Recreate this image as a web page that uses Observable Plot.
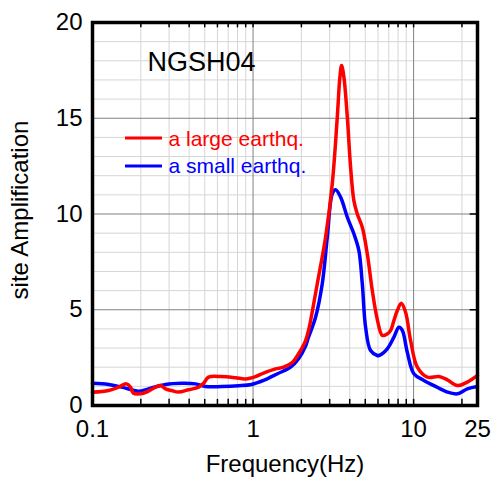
<!DOCTYPE html>
<html>
<head>
<meta charset="utf-8">
<script src="https://cdn.jsdelivr.net/npm/d3@7"></script>
<script src="https://cdn.jsdelivr.net/npm/@observablehq/plot@0.6"></script>
<style>
  html, body { margin: 0; padding: 0; background: #fff; }
  #chart { width: 493px; height: 485px; }
</style>
</head>
<body>
<div id="chart"></div>
<script>
// ---- data ----
const freqLarge = [0.1, 0.126, 0.145, 0.163, 0.1725, 0.18, 0.199, 0.217, 0.247, 0.265, 0.285, 0.311, 0.343, 0.396, 0.458, 0.492, 0.528, 0.636, 0.778, 0.898, 1.036, 1.163, 1.38, 1.549, 1.762, 1.921, 2.124, 2.227, 2.35, 2.512, 2.83, 3.115, 3.347, 3.474, 3.56, 3.68, 3.864, 4.051, 4.246, 4.458, 4.79, 5.146, 5.529, 5.939, 6.383, 6.856, 7.193, 7.541, 7.916, 8.383, 8.913, 9.579, 10.55, 12.17, 14.38, 16.22, 18.72, 21.61, 25];
const ampLarge  = [0.69, 0.78, 0.96, 1.13, 0.96, 0.64, 0.61, 0.70, 0.96, 1.04, 0.87, 0.78, 0.70, 0.82, 0.96, 1.16, 1.48, 1.51, 1.45, 1.39, 1.51, 1.69, 1.91, 2.0, 2.26, 2.70, 3.39, 4.0, 5.0, 6.36, 8.79, 11.58, 15.06, 17.14, 17.75, 17.14, 15.06, 12.44, 10.7, 10.0, 9.31, 7.92, 6.0, 4.5, 3.66, 3.74, 3.92, 4.44, 4.96, 5.34, 4.87, 3.39, 2.0, 1.48, 1.51, 1.34, 1.04, 1.22, 1.57];

const freqSmall = [0.1, 0.126, 0.152, 0.194, 0.223, 0.285, 0.359, 0.438, 0.506, 0.636, 0.812, 0.979, 1.163, 1.421, 1.713, 1.921, 2.124, 2.2, 2.451, 2.698, 2.9, 3.115, 3.266, 3.51, 3.864, 4.246, 4.562, 4.79, 5.023, 5.395, 5.939, 6.078, 6.856, 7.541, 8.1, 8.505, 9.135, 10.04, 11.59, 13.38, 16.22, 18.72, 21.61, 25];
const ampSmall  = [1.16, 1.10, 0.96, 0.75, 0.87, 1.10, 1.16, 1.13, 0.99, 0.99, 1.03, 1.10, 1.31, 1.66, 2.0, 2.44, 3.1, 3.5, 4.61, 6.36, 8.79, 11.05, 11.26, 10.88, 9.83, 8.97, 8.09, 6.36, 4.09, 2.87, 2.61, 2.61, 2.96, 3.57, 4.09, 3.92, 2.78, 1.66, 1.31, 1.04, 0.70, 0.61, 0.87, 0.99];

const seriesNames = ["a large earthq.", "a small earthq."];
const seriesColors = ["#ff0000", "#0000ff"];
const stationName = "NGSH04";
const xTickLabels = [0.1, 1, 10, 25];
const yTickLabels = [0, 5, 10, 15, 20];
const xLabel = "Frequency(Hz)";
const yLabel = "site Amplification";

// ---- derived tables ----
const large = freqLarge.map((f, i) => ({f, a: ampLarge[i]}));
const small = freqSmall.map((f, i) => ({f, a: ampSmall[i]}));
const xMajor = [0.1, 1, 10];
const xMinor = [];
for (const d of [0.1, 1, 10]) for (let k = 2; k <= 9; k++) { const v = d * k; if (v <= 25) xMinor.push(+v.toFixed(3)); }
const xAllTicks = [...xMajor, ...xMinor];
const yMinor = d3.range(1, 20).filter(v => v % 5 !== 0);
const yMajor = [5, 10, 15];

const FONT = "'Liberation Sans', Arial, Helvetica, sans-serif";

const plot = Plot.plot({
  width: 493,
  height: 485,
  marginLeft: 92,
  marginRight: 16,
  marginTop: 22,
  marginBottom: 80,
  style: {fontFamily: FONT, fontSize: "20px", background: "#fff", color: "#000"},
  x: {type: "log", domain: [0.1, 25]},
  y: {domain: [0, 20]},
  marks: [
    Plot.gridX(xMinor, {stroke: "#d6d6d6", strokeOpacity: 1, strokeWidth: 1}),
    Plot.gridY(yMinor, {stroke: "#d6d6d6", strokeOpacity: 1, strokeWidth: 1}),
    Plot.gridX(xMajor, {stroke: "#808080", strokeOpacity: 1, strokeWidth: 1}),
    Plot.gridY(yMajor, {stroke: "#808080", strokeOpacity: 1, strokeWidth: 1}),
    // inward ticks, bottom & top
    Plot.ruleX(xAllTicks, {x: d => d, y1: 0, y2: 0.32, stroke: "#000", strokeWidth: 1.5}),
    Plot.ruleX(xAllTicks, {x: d => d, y1: 20, y2: 19.72, stroke: "#000", strokeWidth: 1.5}),
    // right ticks at major y
    Plot.ruleY(yMajor, {y: d => d, x1: 22.5, x2: 25, stroke: "#000", strokeWidth: 1.5}),
    // curves
    Plot.line(small, {x: "f", y: "a", stroke: seriesColors[1], strokeWidth: 3.5, curve: "catmull-rom"}),
    Plot.line(large, {x: "f", y: "a", stroke: seriesColors[0], strokeWidth: 3.5, curve: "catmull-rom"}),
    Plot.frame({stroke: "#000", strokeWidth: 3.5}),
    // tick labels
    Plot.axisX({anchor: "bottom", ticks: xTickLabels, tickSize: 0, tickPadding: 14, tickFormat: d => String(d), fontSize: 24, label: null}),
    Plot.axisY({anchor: "left", ticks: yTickLabels, tickSize: 0, tickPadding: 10, tickFormat: d => String(d), fontSize: 24, label: null}),
    // x axis title
    Plot.text([xLabel], {frameAnchor: "bottom", dy: 59, fontSize: 24, lineAnchor: "middle"}),
    // station title
    Plot.text([stationName], {frameAnchor: "top-left", dx: 55, dy: 39.5, fontSize: 27, textAnchor: "start", lineAnchor: "middle"}),
    // legend texts
    Plot.text([seriesNames[0]], {frameAnchor: "top-left", dx: 76, dy: 117, fontSize: 21, textAnchor: "start", lineAnchor: "middle", fill: seriesColors[0]}),
    Plot.text([seriesNames[1]], {frameAnchor: "top-left", dx: 76, dy: 144, fontSize: 21, textAnchor: "start", lineAnchor: "middle", fill: seriesColors[1]})
  ]
});

const svg = d3.select(plot);
// y axis title (rotated)
svg.append("text")
  .attr("transform", "translate(28,210) rotate(-90)")
  .attr("text-anchor", "middle")
  .attr("font-family", FONT)
  .attr("font-size", 24)
  .attr("fill", "#000")
  .text(yLabel);
// legend swatch lines
[[0, 138], [1, 166]].forEach(([i, y]) => {
  svg.append("line").attr("x1", 125).attr("x2", 162).attr("y1", y).attr("y2", y)
    .attr("stroke", seriesColors[i]).attr("stroke-width", 3);
});

document.getElementById("chart").appendChild(plot);
</script>
</body>
</html>
